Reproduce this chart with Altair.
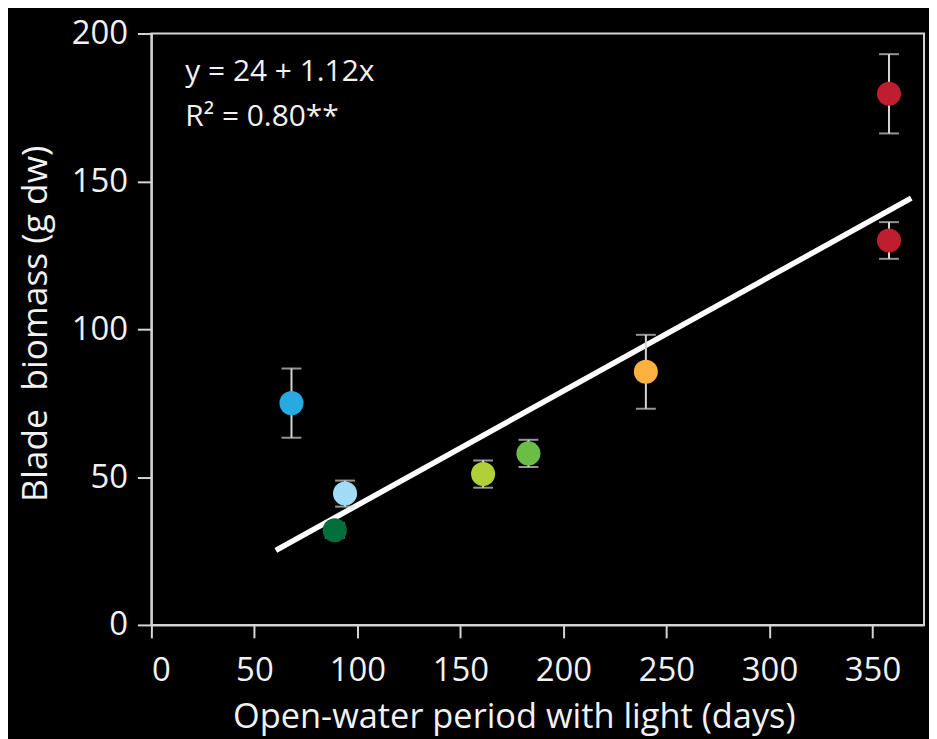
import altair as alt
import pandas as pd

# Data
days = [68, 94, 89, 161, 183, 240, 358, 358]
biomass = [75.0, 44.4, 32.0, 51.0, 58.0, 85.6, 179.6, 130.0]
err = [11.7, 4.4, 2.5, 4.6, 4.6, 12.5, 13.4, 6.2]
site = ["a", "b", "c", "d", "e", "f", "g", "h"]
point_colors = ["#27aae1", "#a0dcf5", "#006f3c", "#add136", "#6cbd45",
                "#fbb040", "#be1e2d", "#be1e2d"]

# Regression line as drawn
fit_x = [60.4, 368.8]
fit_y = [25.2, 144.3]

# Annotation
ann_text = ["y = 24 + 1.12x", "R² = 0.80**"]
ann_x = [16.5, 16.5]
ann_y = [183.9, 168.7]

FONT = "Open Sans"
AX = "#d4d4d4"
TXT = "#f2f2f2"

df = pd.DataFrame({
    "site": site, "days": days, "biomass": biomass,
    "lo": [b - e for b, e in zip(biomass, err)],
    "hi": [b + e for b, e in zip(biomass, err)],
    "color": point_colors,
})
fit = pd.DataFrame({"x": fit_x, "y": fit_y})
ann = pd.DataFrame({"t": ann_text, "x": ann_x, "y": ann_y})

xscale = alt.Scale(domain=[0, 375], nice=False, zero=False)
yscale = alt.Scale(domain=[0, 200], nice=False)

xaxis = alt.Axis(values=[0, 50, 100, 150, 200, 250, 300, 350], grid=False,
                 title="Open-water period with light (days)",
                 tickSize=13, tickWidth=2, tickColor=AX,
                 domainColor=AX, domainWidth=2,
                 labelFont=FONT, labelFontSize=33, labelColor=TXT,
                 labelBaseline="alphabetic", labelPadding=43,
                 titleFont=FONT, titleFontSize=34.5, titleFontWeight="normal",
                 titleColor=TXT, titleX=364, titleY=103,
                 titleBaseline="alphabetic", titleAlign="center")
yaxis = alt.Axis(values=[0, 50, 100, 150, 200], grid=False,
                 title="Blade\u00a0 biomass (g dw)",
                 tickSize=14, tickWidth=2, tickColor=AX,
                 domainColor=AX, domainWidth=2,
                 labelFont=FONT, labelFontSize=33, labelColor=TXT,
                 labelPadding=10,
                 titleFont=FONT, titleFontSize=35.5, titleFontWeight="normal",
                 titleColor=TXT, titleX=-116, titleY=291, titleAngle=-90,
                 titleAlign="center", titleBaseline="middle")

line = alt.Chart(fit).mark_line(color="white", strokeWidth=5.5, strokeCap="butt").encode(
    x=alt.X("x:Q", scale=xscale, axis=xaxis),
    y=alt.Y("y:Q", scale=yscale, axis=yaxis),
)

bars = alt.Chart(df).mark_rule(color=AX, strokeWidth=2).encode(
    x=alt.X("days:Q", scale=xscale),
    y=alt.Y("lo:Q", scale=yscale),
    y2="hi:Q",
)
caps_hi = alt.Chart(df).mark_tick(color=AX, size=20, thickness=2, orient="horizontal").encode(
    x=alt.X("days:Q", scale=xscale),
    y=alt.Y("hi:Q", scale=yscale),
)
caps_lo = alt.Chart(df).mark_tick(color=AX, size=20, thickness=2, orient="horizontal").encode(
    x=alt.X("days:Q", scale=xscale),
    y=alt.Y("lo:Q", scale=yscale),
)
pts = alt.Chart(df).mark_point(filled=True, opacity=1, size=585, shape="circle").encode(
    x=alt.X("days:Q", scale=xscale),
    y=alt.Y("biomass:Q", scale=yscale),
    color=alt.Color("site:N", scale=alt.Scale(domain=site, range=point_colors), legend=None),
)
text = alt.Chart(ann).mark_text(font=FONT, fontSize=30, color=TXT, align="left",
                                baseline="alphabetic").encode(
    x=alt.X("x:Q", scale=xscale),
    y=alt.Y("y:Q", scale=yscale),
    text="t:N",
)

chart = alt.layer(line, bars, caps_hi, caps_lo, pts, text).properties(
    width=776, height=594,
    autosize=alt.AutoSizeParams(type="none"),
    padding={"left": 144, "top": 24, "right": 5, "bottom": 113},
    background="black",
).configure_view(stroke=AX, strokeWidth=2)

chart.save("out.html", embed_options={"renderer": "svg", "actions": False})
